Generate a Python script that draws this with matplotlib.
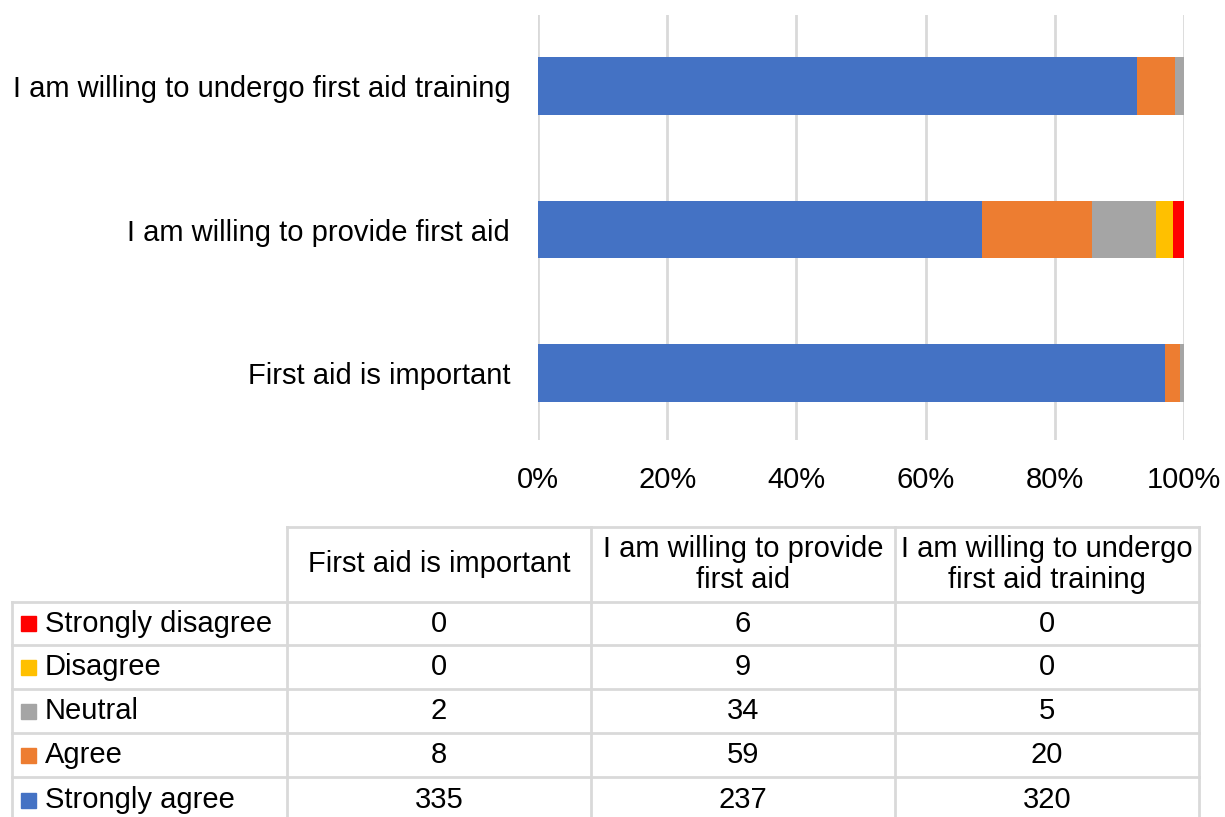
import matplotlib
matplotlib.use("Agg")
import matplotlib.pyplot as plt
import matplotlib.transforms as mtransforms
from matplotlib.lines import Line2D
from matplotlib.patches import Rectangle
import numpy as np

plt.rcParams['font.family'] = ['Liberation Sans', 'DejaVu Sans']

categories = ["First aid is important", "I am willing to provide first aid",
              "I am willing to undergo first aid training"]
header_labels = ["First aid is important", "I am willing to provide\nfirst aid",
                 "I am willing to undergo\nfirst aid training"]
series_names = ["Strongly agree", "Agree", "Neutral", "Disagree", "Strongly disagree"]
strongly_agree = [335, 237, 320]
agree = [8, 59, 20]
neutral = [2, 34, 5]
disagree = [0, 9, 0]
strongly_disagree = [0, 6, 0]
colors = ["#4472C4", "#ED7D31", "#A5A5A5", "#FFC000", "#FF0000"]
xticks = [0, 20, 40, 60, 80, 100]

series = [strongly_agree, agree, neutral, disagree, strongly_disagree]
totals = np.sum(np.array(series, dtype=float), axis=0)

W, H = 1225, 817
fig = plt.figure(figsize=(W / 100, H / 100), dpi=100)

ax = fig.add_axes([538 / W, 1 - 440 / H, (1184 - 538) / W, (440 - 15) / H])
y = np.arange(len(categories))
left = np.zeros(len(categories))
for vals, col, name in zip(series, colors, series_names):
    pct = np.array(vals) / totals * 100
    ax.barh(y, pct, left=left, height=0.40, color=col, label=name, zorder=3)
    left += pct
ax.set_xlim(0, 100)
ax.set_ylim(-0.467, 2.495)
ax.set_xticks(xticks)
ax.set_xticklabels([f"{t}%" for t in xticks], fontsize=21)
ax.set_yticks(y)
ax.set_yticklabels(categories, fontsize=21)
shift = mtransforms.ScaledTranslation(0, -3 / 100, fig.dpi_scale_trans)
for lbl in ax.get_yticklabels():
    lbl.set_transform(lbl.get_transform() + shift)
ax.tick_params(axis='both', length=0, colors='black')
ax.tick_params(axis='x', pad=19)
ax.tick_params(axis='y', pad=20)
for s in ax.spines.values():
    s.set_visible(False)
ax.grid(axis='x', color='#D9D9D9', linewidth=2, zorder=0)
ax.set_axisbelow(True)

# Data table below the chart, drawn in pixel coordinates
tab = fig.add_axes([0, 0, 1, 1])
tab.set_xlim(0, W)
tab.set_ylim(H, 0)
tab.axis('off')
gc = '#D9D9D9'
lw = 2
col_x = [287, 591, 895, 1199]
row_y = [602, 645, 689, 733, 777, 821]
top_y = 527
# horizontal lines
tab.add_line(Line2D([col_x[0], col_x[-1]], [top_y, top_y], color=gc, lw=lw))
for ry in row_y[:-1]:
    tab.add_line(Line2D([12, col_x[-1]], [ry, ry], color=gc, lw=lw))
# vertical lines
tab.add_line(Line2D([12, 12], [row_y[0], H], color=gc, lw=lw))
for cx in col_x:
    tab.add_line(Line2D([cx, cx], [top_y, H], color=gc, lw=lw))

# headers
for i, lab in enumerate(header_labels):
    cx = (col_x[i] + col_x[i + 1]) / 2
    tab.text(cx, (top_y + row_y[0]) / 2, lab, ha='center', va='center',
             fontsize=21, linespacing=1.15)

# rows (legend order reversed: strongly disagree on top)
row_order = list(range(len(series)))[::-1]
for r, si in enumerate(row_order):
    cy = (row_y[r] + row_y[r + 1]) / 2 if r < 4 else 800
    tab.add_patch(Rectangle((21, cy - 7.5), 15, 15, color=colors[si]))
    tab.text(45, cy, series_names[si], ha='left', va='center', fontsize=21)
    for c in range(len(categories)):
        cx = (col_x[c] + col_x[c + 1]) / 2
        tab.text(cx, cy, str(series[si][c]), ha='center', va='center', fontsize=21)

fig.savefig("out.png", dpi=100)
